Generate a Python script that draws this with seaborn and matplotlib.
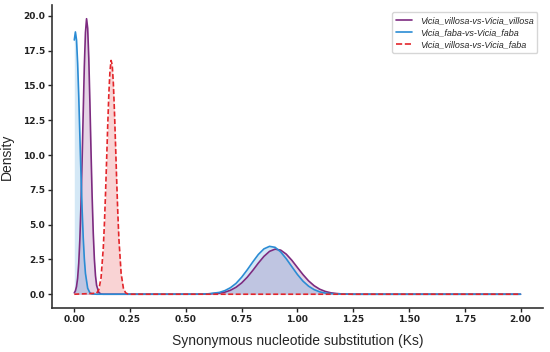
#!/usr/bin/python3

import matplotlib
matplotlib.use("Agg")
import matplotlib.pyplot as plt
from matplotlib.lines import Line2D
import pandas as pd
import seaborn as sns

# Ks density curves
vv_ks = [0.0, 0.005, 0.01, 0.015, 0.02, 0.025, 0.03, 0.035, 0.04, 0.045, 0.05, 0.055,
         0.06, 0.065, 0.07, 0.075, 0.08, 0.085, 0.09, 0.095, 0.1, 0.11, 0.12, 0.13,
         0.55, 0.6, 0.65, 0.675, 0.7, 0.725, 0.75, 0.775, 0.8, 0.825, 0.85, 0.875,
         0.9, 0.925, 0.95, 0.975, 1.0, 1.025, 1.05, 1.075, 1.1, 1.125, 1.15, 1.175,
         1.2, 1.25, 2.0]
vv_density = [0.10, 0.24, 0.55, 1.16, 2.24, 3.96, 6.43, 9.57, 13.06, 16.36, 18.79, 19.8,
              19.12, 16.94, 13.76, 10.25, 7.01, 4.40, 2.53, 1.33, 0.64, 0.12, 0.01, 0.0,
              0.002, 0.015, 0.075, 0.15, 0.285, 0.50, 0.81, 1.22, 1.71, 2.24, 2.72, 3.08,
              3.24, 3.17, 2.88, 2.44, 1.92, 1.41, 0.96, 0.61, 0.36, 0.20, 0.10, 0.05,
              0.02, 0.0, 0.0]

ff_ks = [0.0, 0.005, 0.01, 0.015, 0.02, 0.025, 0.03, 0.035, 0.04, 0.045, 0.05, 0.06,
         0.07, 0.08, 0.1, 0.55, 0.6, 0.65, 0.675, 0.7, 0.725, 0.75, 0.775, 0.8, 0.825,
         0.85, 0.875, 0.9, 0.925, 0.95, 0.975, 1.0, 1.025, 1.05, 1.075, 1.1, 1.125,
         1.15, 1.2, 1.25, 2.0]
ff_density = [18.27, 18.85, 18.27, 16.6, 14.23, 11.4, 8.63, 6.12, 4.08, 2.55, 1.50, 0.43,
              0.10, 0.02, 0.0, 0.004, 0.03, 0.13, 0.26, 0.47, 0.78, 1.22, 1.75, 2.32, 2.86,
              3.26, 3.44, 3.37, 3.04, 2.55, 1.98, 1.42, 0.94, 0.58, 0.33, 0.17, 0.08,
              0.04, 0.01, 0.0, 0.0]

vf_ks = [0.0, 0.1, 0.11, 0.12, 0.13, 0.135, 0.14, 0.145, 0.15, 0.155, 0.16, 0.165,
         0.17, 0.175, 0.18, 0.185, 0.19, 0.195, 0.2, 0.21, 0.22, 0.23, 0.24, 0.25, 2.0]
vf_density = [0.0, 0.07, 0.33, 1.19, 3.33, 5.06, 7.22, 9.68, 12.2, 14.45, 16.06, 16.8,
              16.47, 15.18, 13.15, 10.7, 8.18, 5.87, 3.96, 1.49, 0.44, 0.10, 0.02, 0.0, 0.0]

pairs = ["Vicia_villosa-vs-Vicia_villosa",
         "Vicia_faba-vs-Vicia_faba",
         "Vicia_villosa-vs-Vicia_faba"]
colors = ["#7d2b80", "#2b8cd4", "#e3262b"]
line_styles = ["-", "-", "--"]

frames = []
for name, ks, dens in zip(pairs, [vv_ks, ff_ks, vf_ks], [vv_density, ff_density, vf_density]):
    frames.append(pd.DataFrame({"Ks": ks, "Density": dens, "pair": name}))
df = pd.concat(frames, ignore_index=True)

sns.set_style("ticks")
plt.rcParams["font.family"] = ["DejaVu Sans"]

fig = plt.figure(figsize=(5.5, 3.52), dpi=100)
ax = fig.add_axes([0.0945, 0.125, 0.8925, 0.861])

# light fills under each curve
for name, col in zip(pairs, colors):
    sub = df[df["pair"] == name]
    ax.fill_between(sub["Ks"], 0, sub["Density"], color=col, alpha=0.2, linewidth=0)

sns.lineplot(data=df, x="Ks", y="Density", hue="pair", style="pair",
             palette=dict(zip(pairs, colors)),
             dashes={pairs[0]: "", pairs[1]: "", pairs[2]: (3, 1.5)},
             estimator=None, sort=False, linewidth=1.2, legend=False, ax=ax)

ax.set_xlim(-0.1, 2.1)
ax.set_ylim(-0.99, 20.79)
ax.set_xticks([0.0, 0.25, 0.5, 0.75, 1.0, 1.25, 1.5, 1.75, 2.0])
ax.set_xticklabels(["0.00", "0.25", "0.50", "0.75", "1.00", "1.25", "1.50", "1.75", "2.00"])
ax.set_yticks([0.0, 2.5, 5.0, 7.5, 10.0, 12.5, 15.0, 17.5, 20.0])
ax.set_yticklabels(["0.0", "2.5", "5.0", "7.5", "10.0", "12.5", "15.0", "17.5", "20.0"])
ax.tick_params(labelsize=6.5, length=3, width=1, pad=2, colors="#222222")
for lab in ax.get_xticklabels() + ax.get_yticklabels():
    lab.set_fontweight("semibold")
sns.despine(ax=ax)
for sp in ["left", "bottom"]:
    ax.spines[sp].set_linewidth(1.2)
    ax.spines[sp].set_color("#333333")

ax.set_xlabel("Synonymous nucleotide substitution (Ks)", fontsize=10,
              family="Liberation Sans")
ax.set_ylabel("Density", fontsize=10, family="Liberation Sans")
ax.xaxis.set_label_coords(0.5, -0.085)
ax.yaxis.set_label_coords(-0.077, 0.5)

handles = [Line2D([0], [0], color=c, linestyle=ls, linewidth=1.2)
           for c, ls in zip(colors, line_styles)]
ax.legend(handles, pairs, loc="upper right", bbox_to_anchor=(0.998, 0.99),
          prop={"style": "italic", "size": 6.5, "family": "Liberation Sans"},
          frameon=True, edgecolor="#cccccc", handlelength=1.8, borderpad=0.4,
          labelspacing=0.35, handletextpad=0.9)

fig.savefig("out.png", dpi=100)
